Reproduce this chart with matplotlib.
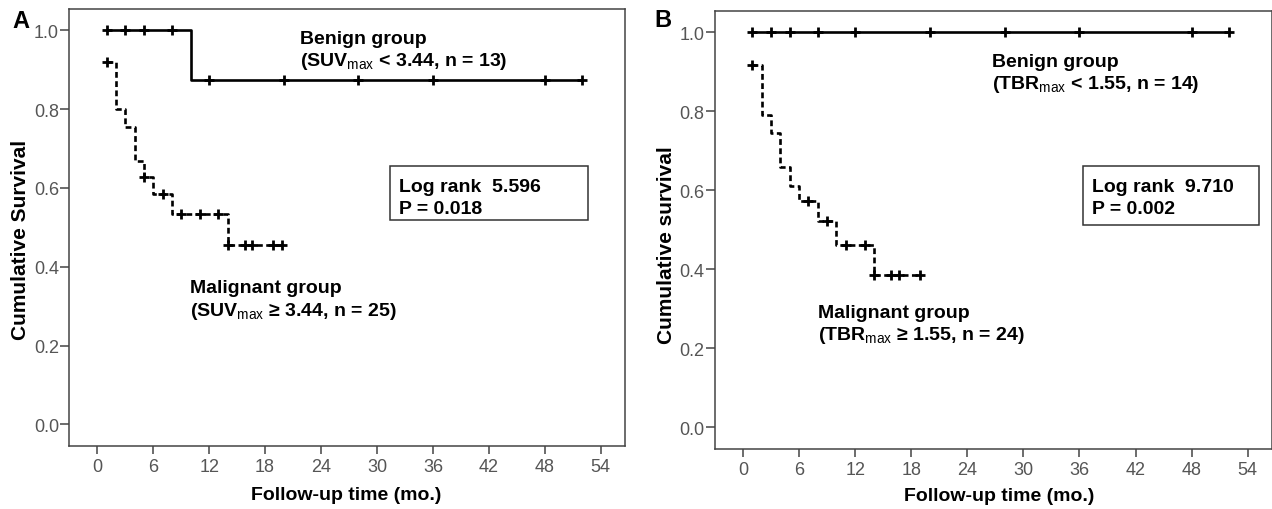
import numpy as np
import matplotlib
matplotlib.use("Agg")
import matplotlib.pyplot as plt
import matplotlib.patches as P

plt.rcParams["font.family"] = ["Liberation Sans", "DejaVu Sans"]
plt.rcParams["mathtext.fontset"] = "custom"
plt.rcParams["mathtext.rm"] = "Liberation Sans"

W, H = 1272, 510

# ---- panel A (SUVmax) ----
a_ben_t = [1, 10, 52]
a_ben_s = [1.0, 0.875, 0.875]
a_ben_cens = [1, 3, 5, 8, 12, 20, 28, 36, 48, 52]

a_mal_t = [1, 2, 3, 4, 5, 6, 8, 14, 19.8]
a_mal_s = [0.92, 0.80, 0.755, 0.668, 0.628, 0.584, 0.533, 0.455, 0.455]
a_mal_cens = [1, 5, 7, 9, 11, 13, 14, 15.8, 16.6, 18.9, 19.8]

# ---- panel B (TBRmax) ----
b_ben_t = [1, 52]
b_ben_s = [1.0, 1.0]
b_ben_cens = [1, 3, 5, 8, 12, 20, 28, 36, 48, 52]

b_mal_t = [1, 2, 3, 4, 5, 6, 8, 10, 14, 18.9]
b_mal_s = [0.917, 0.79, 0.745, 0.66, 0.612, 0.572, 0.522, 0.462, 0.386, 0.386]
b_mal_cens = [1, 7, 9, 11, 13, 14, 15.8, 16.7, 18.9]

x_ticks = [0, 6, 12, 18, 24, 30, 36, 42, 48, 54]
y_ticks = [0.0, 0.2, 0.4, 0.6, 0.8, 1.0]


def px(x, y):
    # pixel position -> figure fraction
    return x / W, 1 - y / H


def surv_at(times, surv, t):
    i = np.searchsorted(times, t, side="right") - 1
    return np.asarray(surv)[np.clip(i, 0, len(surv) - 1)]


def km(ax, t, s, cens, dashed):
    ls = (0, (2.2, 1.3)) if dashed else "-"
    ax.step(t, s, where="post", color="black", lw=1.9, linestyle=ls,
            zorder=2 if dashed else 3)
    ax.plot(cens, surv_at(t, s, cens), "+", color="black", ms=6.5, mew=2,
            zorder=4)


def style(ax):
    ax.set_xlim(-3, 56.6)
    ax.set_ylim(-0.055, 1.054)
    ax.set_xticks(x_ticks)
    ax.set_yticks(y_ticks)
    ax.set_yticklabels([f"{v:.1f}" for v in y_ticks])
    for sp in ax.spines.values():
        sp.set_color("#444444")
        sp.set_linewidth(1.1)
    ax.tick_params(axis="x", length=6, width=1.1, color="#444444",
                   labelsize=13, labelcolor="#555555", pad=3)
    ax.tick_params(axis="y", length=6.5, width=1.1, color="#444444",
                   labelsize=13, labelcolor="#555555", pad=1)


fig = plt.figure(figsize=(W / 100, H / 100), dpi=100)
axA = fig.add_axes([69.3 / W, 63 / H, 555.7 / W, 437 / H])
axB = fig.add_axes([715 / W, 60 / H, 557 / W, 438 / H])

km(axA, a_mal_t, a_mal_s, a_mal_cens, True)
km(axA, a_ben_t, a_ben_s, a_ben_cens, False)
km(axB, b_mal_t, b_mal_s, b_mal_cens, True)
km(axB, b_ben_t, b_ben_s, b_ben_cens, False)
style(axA)
style(axB)

bold = dict(fontsize=14, fontweight="bold", va="baseline", ha="left")

# panel letters
fig.text(*px(12, 28), "A", fontsize=17, fontweight="bold", va="baseline")
fig.text(*px(654, 27), "B", fontsize=17, fontweight="bold", va="baseline")

# axis labels
fig.text(*px(21, 240), "Cumulative Survival", rotation=90, fontsize=15,
         fontweight="bold", ha="center", va="center")
fig.text(*px(667, 245), "Cumulative survival", rotation=90, fontsize=15,
         fontweight="bold", ha="center", va="center")
fig.text(*px(346, 496), "Follow-up time (mo.)", fontsize=14,
         fontweight="bold", ha="center", va="center")
fig.text(*px(999, 497), "Follow-up time (mo.)", fontsize=14,
         fontweight="bold", ha="center", va="center")

# group annotations
fig.text(*px(300, 43.5), "Benign group", **bold)
fig.text(*px(300, 66), r"(SUV$_{\mathrm{max}}$ < 3.44, n = 13)", **bold)
fig.text(*px(190, 293.5), "Malignant group", **bold)
fig.text(*px(190, 316.5), r"(SUV$_{\mathrm{max}}$ ≥ 3.44, n = 25)", **bold)

fig.text(*px(992, 66.7), "Benign group", **bold)
fig.text(*px(992, 89.3), r"(TBR$_{\mathrm{max}}$ < 1.55, n = 14)", **bold)
fig.text(*px(818, 318.3), "Malignant group", **bold)
fig.text(*px(818, 340), r"(TBR$_{\mathrm{max}}$ ≥ 1.55, n = 24)", **bold)

# log-rank boxes
for (x0, y0, x1, y1), l1, l2 in [
    ((390, 167.3, 588.3, 221), "Log rank  5.596", "P = 0.018"),
    ((1082.7, 167.3, 1259, 225.7), "Log rank  9.710", "P = 0.002"),
]:
    fig.patches.append(P.Rectangle(px(x0, y1), (x1 - x0) / W, (y1 - y0) / H,
                                   transform=fig.transFigure, fill=False,
                                   edgecolor="#333333", linewidth=1.1))
    fig.text(*px(x0 + 9, 191.7), l1, **bold)
    fig.text(*px(x0 + 9, 214.5), l2, **bold)

fig.savefig("out.png", dpi=100)
